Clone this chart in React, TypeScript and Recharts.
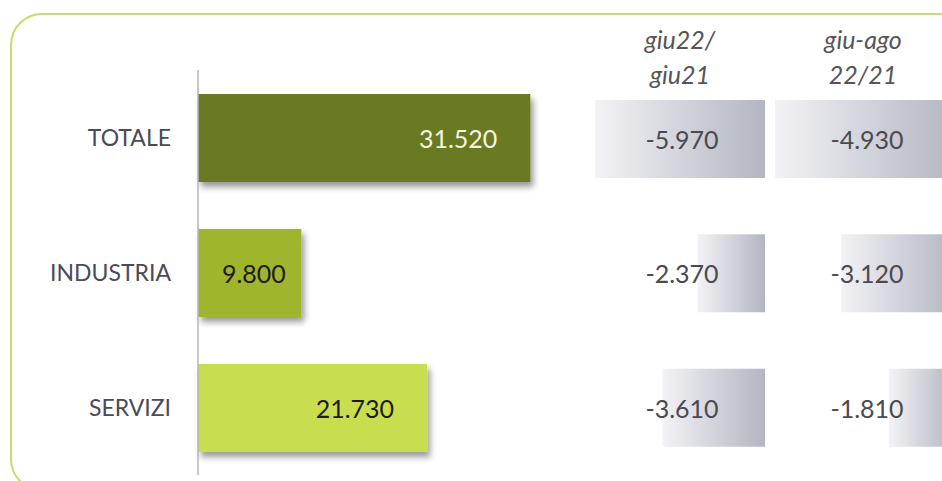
import { BarChart, Bar, XAxis, YAxis, Cell, LabelList } from 'recharts';

const categories = ['TOTALE', 'INDUSTRIA', 'SERVIZI'];
const occupati = [31520, 9800, 21730];
const varGiu = [-5970, -2370, -3610];
const varGiuAgo = [-4930, -3120, -1810];
const headGiu = ['giu22/', 'giu21'];
const headGiuAgo = ['giu-ago', '22/21'];

const BAR_COLORS = ['#6b7a23', '#a0b52e', '#c9de4f'];
const LABEL_COLORS = ['#f4f4e2', '#1c1c10', '#1c1c10'];
const FONT = 'Lato, "Open Sans", sans-serif';

const fmt = (n: number): string =>
  n.toLocaleString('de-DE', { maximumFractionDigits: 0 });

const mainData = categories.map((name, i) => ({ name, value: occupati[i] }));
const giuData = categories.map((name, i) => ({ name, value: varGiu[i] }));
const giuAgoData = categories.map((name, i) => ({ name, value: varGiuAgo[i] }));

/* eslint-disable @typescript-eslint/no-explicit-any */
function ShadowRect(props: any) {
  const { x, y, width, height, fill } = props;
  return <rect x={x} y={y} width={width} height={height} fill={fill} filter="url(#barShadow)" />;
}

function mainLabel(props: any) {
  const { x, y, width, height, value, index } = props;
  const inset = Math.min(33, width * 0.15);
  return (
    <text
      x={x + width - inset}
      y={y + height / 2}
      textAnchor="end"
      dominantBaseline="central"
      fontSize={25}
      fontFamily={FONT}
      fill={LABEL_COLORS[index]}
    >
      {fmt(value)}
    </text>
  );
}

const varLabel = (back: number) =>
  function VarLabel(props: any) {
    const { x, y, width, height, value } = props;
    const right = Math.max(x, x + width);
    return (
      <text
        x={right - back}
        y={y + height / 2}
        textAnchor="middle"
        dominantBaseline="central"
        fontSize={25}
        fontFamily={FONT}
        fill="#4a4a50"
      >
        {fmt(value)}
      </text>
    );
  };

interface VarProps {
  data: { name: string; value: number }[];
  left: number;
  width: number;
  min: number;
  back: number;
  gid: string;
}

function VarColumn({ data, left, width, min, back, gid }: VarProps) {
  return (
    <div style={{ position: 'absolute', left, top: 0 }}>
      <BarChart
        width={width}
        height={481}
        layout="vertical"
        data={data}
        margin={{ top: 72, right: 0, bottom: 6, left: 0 }}
      >
        <defs>
          <linearGradient id={gid} x1="0" y1="0" x2="1" y2="0">
            <stop offset="0%" stopColor="#f3f3f6" />
            <stop offset="100%" stopColor="#b3b5c1" />
          </linearGradient>
        </defs>
        <XAxis type="number" domain={[min, 0]} hide />
        <YAxis type="category" dataKey="name" hide />
        <Bar dataKey="value" barSize={78} fill={`url(#${gid})`} isAnimationActive={false}>
          <LabelList dataKey="value" content={varLabel(back)} />
        </Bar>
      </BarChart>
    </div>
  );
}

export default function App() {
  return (
    <div
      style={{
        position: 'fixed',
        left: 0,
        top: 0,
        width: 942,
        height: 481,
        overflow: 'hidden',
        background: '#fff',
        fontFamily: FONT,
      }}
    >
      <div
        style={{
          position: 'absolute',
          left: 10,
          top: 13,
          width: 960,
          height: 478,
          border: '2.5px solid #c6dc6b',
          borderRadius: 32,
          boxSizing: 'border-box',
        }}
      />

      <div style={{ position: 'absolute', left: 0, top: 0 }}>
        <BarChart
          width={567}
          height={481}
          layout="vertical"
          data={mainData}
          margin={{ top: 70, right: 0, bottom: 6, left: 0 }}
        >
          <defs>
            <filter id="barShadow" x="-10%" y="-10%" width="130%" height="140%">
              <feDropShadow dx="3" dy="5" stdDeviation="3" floodColor="#000" floodOpacity="0.4" />
            </filter>
          </defs>
          <XAxis type="number" domain={[0, 35000]} hide />
          <YAxis
            type="category"
            dataKey="name"
            width={198}
            tickLine={false}
            tickSize={0}
            tickMargin={27}
            axisLine={{ stroke: '#b4b4b4', strokeWidth: 1.5 }}
            tick={{ fontSize: 23, fill: '#4a4a58', fontFamily: FONT }}
          />
          <Bar dataKey="value" barSize={88} shape={ShadowRect} isAnimationActive={false}>
            {mainData.map((d, i) => (
              <Cell key={d.name} fill={BAR_COLORS[i]} />
            ))}
            <LabelList dataKey="value" content={mainLabel} />
          </Bar>
        </BarChart>
      </div>

      <VarColumn data={giuData} left={566} width={199} min={-7000} back={83} gid="gradGiu" />
      <VarColumn data={giuAgoData} left={736} width={219} min={-6000} back={88} gid="gradGiuAgo" />

      {[
        { lines: headGiu, cx: 680 },
        { lines: headGiuAgo, cx: 863 },
      ].map((h) => (
        <div
          key={h.cx}
          style={{
            position: 'absolute',
            left: h.cx - 60,
            top: 22,
            width: 120,
            textAlign: 'center',
            fontStyle: 'italic',
            fontSize: 25,
            lineHeight: '35px',
            color: '#555558',
          }}
        >
          {h.lines.map((l) => (
            <div key={l}>{l}</div>
          ))}
        </div>
      ))}
    </div>
  );
}
